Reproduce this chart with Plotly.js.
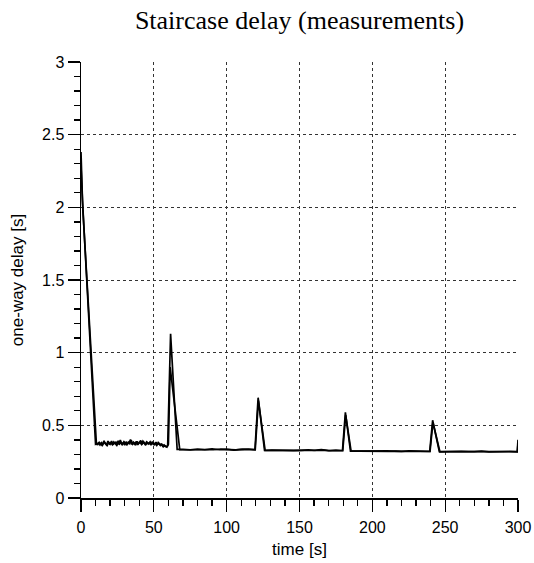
<!DOCTYPE html>
<html>
<head>
<meta charset="utf-8">
<script src="https://cdn.plot.ly/plotly-3.0.1.min.js"></script>
<style>html,body{margin:0;padding:0;background:#fff;}#chart{width:534px;height:563px;}</style>
</head>
<body>
<div id="chart"></div>
<script>
const timeA = [0, 1, 10,
  11,12,13,14,15,16,17,18,19,20,
  21,22,23,24,25,26,27,28,29,30,
  31,32,33,34,35,36,37,38,39,40,
  41,42,43,44,45,46,47,48,49,50,
  51,52,53,54,55,56,57,
  58.5, 59.5, 61.5, 66,
  70,75,80,85,90,95,100,105,110,115,
  119.4, 121.6, 126,
  130,135,140,145,150,155,160,165,170,175,
  179.5, 181.5, 185,
  190,195,200,205,210,215,220,225,230,235,
  239.4, 241.4, 246,
  250,255,260,265,270,275,280,285,290,295,
  299.5, 300];
const delayA = [2.38, 2.05, 0.37,
  0.372,0.378,0.365,0.381,0.369,0.388,0.374,0.362,0.383,0.371,
  0.392,0.366,0.379,0.385,0.368,0.376,0.398,0.370,0.381,0.364,
  0.387,0.373,0.379,0.402,0.368,0.384,0.371,0.390,0.366,0.378,
  0.395,0.372,0.383,0.369,0.386,0.374,0.380,0.365,0.388,0.371,
  0.377,0.362,0.381,0.368,0.372,0.358,0.366,
  0.352, 0.360, 1.13, 0.335,
  0.334,0.331,0.336,0.333,0.338,0.332,0.335,0.330,0.334,0.337,
  0.333, 0.69, 0.328,
  0.328,0.330,0.326,0.329,0.331,0.327,0.328,0.333,0.326,0.329,
  0.327, 0.59, 0.323,
  0.322,0.324,0.321,0.323,0.325,0.322,0.320,0.324,0.322,0.321,
  0.321, 0.535, 0.319,
  0.319,0.321,0.318,0.320,0.319,0.322,0.318,0.320,0.319,0.321,
  0.319, 0.40];

const timeB = [0, 1.3, 10.6,
  11.5,12.5,13.5,14.5,15.5,16.5,17.5,18.5,19.5,20.5,
  21.5,22.5,23.5,24.5,25.5,26.5,27.5,28.5,29.5,30.5,
  31.5,32.5,33.5,34.5,35.5,36.5,37.5,38.5,39.5,40.5,
  41.5,42.5,43.5,44.5,45.5,46.5,47.5,48.5,49.5,50.5,
  51.5,52.5,53.5,54.5,55.5,56.5,57.5,
  59, 60, 61.2, 67.8,
  71,76,81,86,91,96,101,106,111,116,
  119.6, 121.8, 126.4,
  131,136,141,146,151,156,161,166,171,176,
  179.7, 181.7, 185.4,
  191,196,201,206,211,216,221,226,231,236,
  239.6, 241.6, 246.4,
  251,256,261,266,271,276,281,286,291,296,
  299.6, 300];
const delayB = [2.28, 1.98, 0.37,
  0.368,0.383,0.374,0.361,0.386,0.377,0.365,0.391,0.372,0.380,
  0.367,0.385,0.376,0.363,0.394,0.371,0.382,0.369,0.388,0.375,
  0.366,0.384,0.373,0.397,0.370,0.379,0.364,0.389,0.376,0.383,
  0.369,0.391,0.374,0.367,0.381,0.372,0.387,0.370,0.378,0.363,
  0.384,0.369,0.375,0.361,0.370,0.352,0.359,
  0.350, 0.370, 0.90, 0.333,
  0.333,0.336,0.331,0.334,0.332,0.337,0.333,0.331,0.335,0.333,
  0.332, 0.67, 0.327,
  0.329,0.327,0.330,0.326,0.328,0.331,0.327,0.329,0.325,0.328,
  0.326, 0.57, 0.322,
  0.323,0.321,0.324,0.322,0.320,0.323,0.321,0.324,0.322,0.320,
  0.320, 0.52, 0.318,
  0.320,0.318,0.321,0.319,0.317,0.320,0.319,0.318,0.321,0.319,
  0.318, 0.38];

const chartTitle = 'Staircase delay (measurements)';
const xTitle = 'time [s]';
const yTitle = 'one-way delay [s]';

const lineStyle = {color: '#000', width: 1.7};
const traces = [
  {x: timeA, y: delayA, type: 'scatter', mode: 'lines', line: lineStyle, showlegend: false, hoverinfo: 'skip'},
  {x: timeB, y: delayB, type: 'scatter', mode: 'lines', line: lineStyle, showlegend: false, hoverinfo: 'skip'}
];

const sans = 'Liberation Sans, Arial, sans-serif';
const axisCommon = {
  showline: true, linecolor: '#000', linewidth: 1.5,
  zeroline: false,
  showgrid: true, gridcolor: '#333', gridwidth: 1, griddash: 'dot',
  ticks: 'outside', ticklen: 12, tickwidth: 1.3, tickcolor: '#000',
  tickfont: {family: sans, size: 16, color: '#000'},
  fixedrange: true
};

const layout = {
  width: 534, height: 563,
  margin: {l: 81, r: 16, t: 62, b: 65},
  paper_bgcolor: '#fff', plot_bgcolor: '#fff',
  title: {text: chartTitle, font: {family: 'Liberation Serif, Times New Roman, serif', size: 26, color: '#000'},
          xref: 'paper', x: 0.5, xanchor: 'center', y: 0.965, yanchor: 'middle'},
  xaxis: Object.assign({}, axisCommon, {
    range: [0, 300], tick0: 0, dtick: 50, ticklabelstandoff: 2,
    minor: {ticks: 'outside', dtick: 10, ticklen: 6, tickwidth: 1.3, tickcolor: '#000', showgrid: false},
    title: {text: xTitle, font: {family: sans, size: 17, color: '#000'}, standoff: 8}
  }),
  yaxis: Object.assign({}, axisCommon, {
    range: [0, 3], tick0: 0, dtick: 0.5, ticklabelstandoff: 0,
    minor: {ticks: 'outside', dtick: 0.1, ticklen: 6, tickwidth: 1.3, tickcolor: '#000', showgrid: false},
    title: {text: yTitle, font: {family: sans, size: 17, color: '#000'}, standoff: 14}
  })
};

Plotly.newPlot('chart', traces, layout, {displayModeBar: false, staticPlot: true});
</script>
</body>
</html>
